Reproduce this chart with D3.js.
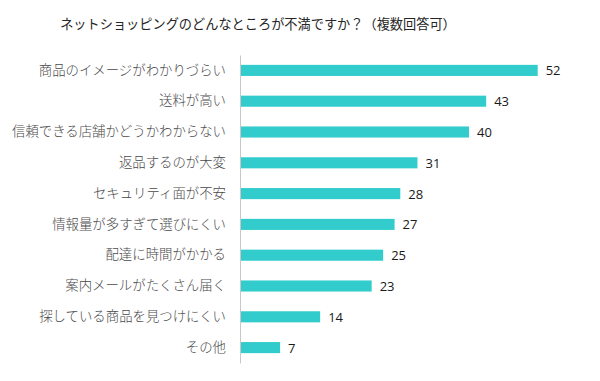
<!DOCTYPE html>
<html>
<head>
<meta charset="utf-8">
<script src="https://cdn.jsdelivr.net/npm/d3@7"></script>
<style>
  body { margin: 0; background: #fff; }
  svg text { font-family: "Noto Sans CJK JP", sans-serif; }
</style>
</head>
<body>
<div id="chart"></div>
<script>
const title = 'ネットショッピングのどんなところが不満ですか？（複数回答可）';
const categories = [
  '商品のイメージがわかりづらい',
  '送料が高い',
  '信頼できる店舗かどうかわからない',
  '返品するのが大変',
  'セキュリティ面が不安',
  '情報量が多すぎて選びにくい',
  '配達に時間がかかる',
  '案内メールがたくさん届く',
  '探している商品を見つけにくい',
  'その他'
];
const values = [52, 43, 40, 31, 28, 27, 25, 23, 14, 7];

const width = 600, height = 381;
const margin = { top: 55, right: 40, bottom: 18, left: 240 };

const svg = d3.select('#chart').append('svg')
  .attr('width', width)
  .attr('height', height);

svg.append('text')
  .attr('x', 258)
  .attr('y', 29)
  .attr('text-anchor', 'middle')
  .style('font-size', '13.2px')
  .style('fill', '#262626')
  .text(title);

const x = d3.scaleLinear()
  .domain([0, 52])
  .range([margin.left, 537.7]);

const y = d3.scaleBand()
  .domain(categories)
  .range([margin.top, height - margin.bottom])
  .paddingInner(0.64)
  .paddingOuter(0.32);

const g = svg.append('g');

g.selectAll('rect')
  .data(values)
  .enter()
  .append('rect')
    .attr('x', x(0))
    .attr('y', (d, i) => y(categories[i]))
    .attr('width', d => x(d) - x(0))
    .attr('height', y.bandwidth())
    .style('fill', '#33cccc');

// category axis
const yAxis = svg.append('g')
  .attr('transform', 'translate(' + x(0) + ',0)')
  .call(d3.axisLeft(y).tickSize(0).tickPadding(14));
yAxis.select('.domain').attr('stroke', '#c8c8c8').attr('stroke-width', 1);
yAxis.selectAll('text')
  .style('font-size', '13.4px')
  .style('font-weight', 300)
  .style('fill', '#4a4a4a')
  .style('font-family', '"Noto Sans CJK JP", sans-serif');

// value labels
g.selectAll('.val')
  .data(values)
  .enter()
  .append('text')
    .attr('class', 'val')
    .attr('x', d => x(d) + 8)
    .attr('y', (d, i) => y(categories[i]) + y.bandwidth() / 2)
    .attr('dy', '0.38em')
    .style('font-family', '"Open Sans", sans-serif')
    .style('font-size', '13px')
    .style('fill', '#1a1a1a')
    .text(d => d);
</script>
</body>
</html>
